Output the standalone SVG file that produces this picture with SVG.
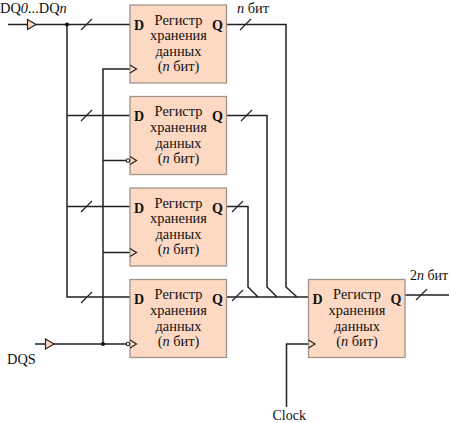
<svg xmlns="http://www.w3.org/2000/svg" width="450" height="423" viewBox="0 0 450 423">
<style>
text{font-family:"Liberation Serif","Times New Roman",serif;font-size:14.400px;fill:#111}
.c{text-anchor:middle}
.b{font-weight:bold;font-size:14px}
.r{fill:#fdd9c4;stroke:#a09488;stroke-width:1.3}
.w{fill:none;stroke:#222;stroke-width:1.5}
.t{fill:none;stroke:#222;stroke-width:1.2}
.k{fill:#fdd9c4;stroke:#222;stroke-width:1.2}
.n{fill:#fff;stroke:#222;stroke-width:1.1}
</style>
<defs>
<g id="reg">
<rect class="r" x="0" y="0" width="96.500" height="78"/>
<text class="b" x="4" y="24.500">D</text>
<text class="b" x="82" y="24.500">Q</text>
<text class="c" x="48.500" y="19.500">Регистр</text>
<text class="c" x="48.500" y="35">хранения</text>
<text class="c" x="48.500" y="51">данных</text>
<text class="c" x="48.500" y="66">(<tspan font-style="italic">n</tspan> бит)</text>
</g>
</defs>
<g id="connectors">
<path class="w" d="M8 24.500H130M67 24.500V297H130M67 115.500H130M67 206.500H130"/>
<path class="w" d="M130 69H103V344M130 252.500H103M128 160.500H103M35 344H128"/>
<path class="w" d="M227 24.500H286V287L297 297M227 115.500H267V287L277 297M227 206.500H248V287L258 297M227 297H308.500"/>
<path class="w" d="M405 295H449M308.500 344H286.500V407"/>
<path class="t" d="M81 30L92 19M81 121L92 110M81 212L92 201M81 303L92 292M240 30L251 19M241 121L252 110M232 212L243 201M232 301L243 290M416 300L427 289"/>
<path class="k" d="M27.500 19.500L36 24.500L27.500 29.500Z"/>
<path class="k" d="M45.500 339L54 344L45.500 349Z"/>
<circle cx="67" cy="24.500" r="2" fill="#111"/>
<circle cx="103" cy="344" r="2" fill="#111"/>
</g>
<g id="reg1"><use href="#reg" x="130" y="5"/></g>
<g id="reg2"><use href="#reg" x="130" y="96.500"/></g>
<g id="reg3"><use href="#reg" x="130" y="188"/></g>
<g id="reg4"><use href="#reg" x="130" y="279.500"/></g>
<g id="reg5"><use href="#reg" x="308.500" y="279.500"/></g>
<g id="clock-marks">
<path class="t" d="M130 65L136.500 69L130 73M130 156.500L136.500 160.500L130 164.500M130 248.500L136.500 252.500L130 256.500M130 340L136.500 344L130 348M308.500 340L315 344L308.500 348"/>
<circle class="n" cx="128" cy="160.500" r="1.700"/>
<circle class="n" cx="128" cy="344" r="1.700"/>
</g>
<g id="labels">
<text x="0" y="13">DQ<tspan font-style="italic">0</tspan>...DQ<tspan font-style="italic">n</tspan></text>
<text x="7" y="364">DQS</text>
<text x="237" y="13"><tspan font-style="italic">n</tspan> бит</text>
<text x="410" y="280" style="font-size:14px">2<tspan font-style="italic">n</tspan> бит</text>
<text x="272.500" y="419.500" style="font-size:14px">Clock</text>
</g>
</svg>
